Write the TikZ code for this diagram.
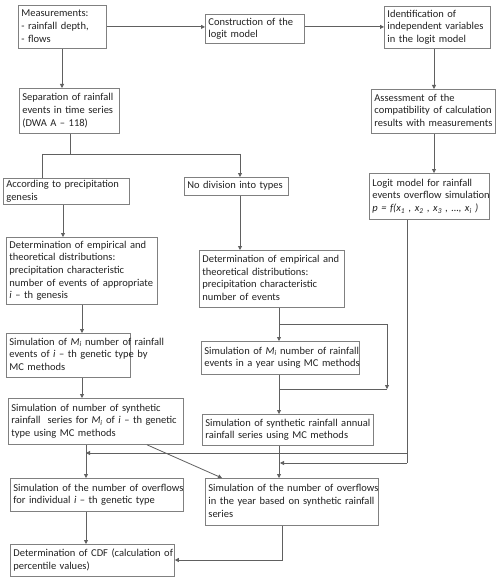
\documentclass[tikz,border=0pt]{standalone}
\usepackage{fontspec}
\setmainfont{Carlito}
\usetikzlibrary{arrows.meta}
\definecolor{boxc}{HTML}{808080}
\definecolor{linec}{HTML}{606060}
\definecolor{txtc}{HTML}{222222}
\newcommand\Ls[1]{\begin{tabular}{@{}l@{}}#1\end{tabular}}
\newcommand\Mi{\textit{M}\textsubscript{\textit{i}}}
\tikzset{
  box/.style={draw=boxc, line width=0.8pt, anchor=north west, inner xsep=3pt, inner ysep=0pt,
    align=left, text=txtc, font=\fontsize{10.5}{12.6}\selectfont},
  conn/.style={draw=linec, line width=0.8pt},
  arr/.style={conn, -{Triangle[length=4pt,width=4pt]}},
}
\begin{document}
\begin{tikzpicture}[x=1pt,y=-1pt]
\fill[white] (0,0) rectangle (500,580);
\useasboundingbox (0,0) rectangle (500,580);
% boxes
\node[box, text width=82pt, minimum height=43pt] (meas) at (18,5) {\Ls{Measurements:\\- rainfall depth,\\- flows}};
\node[box, text width=93pt, minimum height=29pt] (constr) at (205,14) {\Ls{Construction of the\\logit model}};
\node[box, text width=100pt, minimum height=42pt] (ident) at (384,6) {\Ls{Identification of\\independent variables\\in the logit model}};
\node[box, text width=118pt, minimum height=44pt] (assess) at (371,89) {\Ls{Assessment of the\\compatibility of calculation\\results with measurements}};
\node[box, text width=94pt, minimum height=45pt] (sep) at (19,88) {\Ls{Separation of rainfall\\events in time series\\(DWA A -- 118)}};
\node[box, text width=120pt, minimum height=26pt] (accord) at (3,178) {\Ls{According to precipitation\\genesis}};
\node[box, text width=98pt, minimum height=18pt] (nodiv) at (184,177) {\Ls{No division into types}};
\node[box, text width=114pt, minimum height=46pt] (logit) at (369,173) {\Ls{Logit model for rainfall\\events overflow simulation\\\textit{p = f(x\textsubscript{1} , x\textsubscript{2} , x\textsubscript{3} , …, x\textsubscript{i} )}}};
\node[box, text width=145pt, minimum height=67pt] (detL) at (6,237) {\Ls{Determination of empirical and\\theoretical distributions:\\precipitation characteristic\\number of events of appropriate\\\textit{i} -- th genesis}};
\node[box, text width=139pt, minimum height=57pt] (detR) at (199,250) {\Ls{Determination of empirical and\\theoretical distributions:\\precipitation characteristic\\number of events}};
\node[box, text width=118pt, minimum height=44pt] (simML) at (6,333) {\Ls{Simulation of \Mi{} number of rainfall\\events of \textit{i} -- th genetic type by\\MC methods}};
\node[box, text width=152pt, minimum height=33pt] (simMR) at (201,341) {\Ls{Simulation of \Mi{} number of rainfall\\events in a year using MC methods}};
\node[box, text width=169pt, minimum height=46pt] (synL) at (8,398) {\Ls{Simulation of number of synthetic\\rainfall\ \ series for \Mi{} of \textit{i} -- th genetic\\type using MC methods}};
\node[box, text width=165pt, minimum height=31pt] (synA) at (202,414) {\Ls{Simulation of synthetic rainfall annual\\rainfall series using MC methods}};
\node[box, text width=167pt, minimum height=33pt] (overL) at (10,478) {\Ls{Simulation of the number of overflows\\for individual \textit{i} -- th genetic type}};
\node[box, text width=167pt, minimum height=47pt] (overR) at (205,478) {\Ls{Simulation of the number of overflows\\in the year based on synthetic rainfall\\series}};
\node[box, text width=158pt, minimum height=32pt] (cdf) at (10,544) {\Ls{Determination of CDF (calculation of\\percentile values)}};
% column coordinates
\coordinate (k62) at (62,0);
\coordinate (k63) at (63,0);
\coordinate (k82) at (82,0);
\coordinate (k86) at (86,0);
\coordinate (k147) at (147,0);
\coordinate (k222) at (222,0);
\coordinate (k279) at (279,0);
\coordinate (k434) at (434,0);
% connectors
\draw[arr] (meas.south -| k62) -- (sep.north -| k62);
\draw[arr] (meas.east) -- (meas.east -| constr.west);
\draw[arr] (constr.east |- meas.east) -- (ident.west |- meas.east);
\draw[arr] (ident.south -| k434) -- (assess.north -| k434);
\draw[arr] (assess.south -| k434) -- (logit.north -| k434);
\coordinate (s1) at (70,154);
\coordinate (s2) at (42,154);
\coordinate (s3) at (240,154);
\draw[conn] (sep.south -| s1) -- (s1);
\draw[conn] (s2) -- (s3);
\draw[conn] (s2) -- (accord.north -| s2);
\draw[arr] (s3) -- (nodiv.north -| s3);
\draw[arr] (accord.south -| k63) -- (detL.north -| k63);
\draw[arr] (nodiv.south -| s3) -- (detR.north -| s3);
\draw[arr] (detL.south -| k82) -- (simML.north -| k82);
\draw[arr] (detR.south -| k279) -- (simMR.north -| k279);
\coordinate (b1) at (279,324);
\coordinate (b2) at (387,324);
\coordinate (b3) at (387,389);
\coordinate (b4) at (279,389);
\draw[arr] (b1) -- (b2) -- (b3);
\draw[conn] (b4) -- (b3);
\draw[arr] (simMR.south -| k279) -- (synA.north -| k279);
\draw[arr] (simML.south -| k82) -- (synL.north -| k82);
\draw[arr] (synL.south -| k86) -- (overL.north -| k86);
\draw[arr] (synL.south -| k147) -- (overR.north -| k222);
\draw[arr] (synA.south -| k279) -- (overR.north -| k279);
\coordinate (l1) at (407,453);
\coordinate (l2) at (407,463);
\coordinate (l3) at (86,453);
\coordinate (l4) at (280,463);
\draw[conn] (logit.south -| l1) -- (l2);
\draw[arr] (l1) -- (l3);
\draw[arr] (l2) -- (l4);
\draw[arr] (overL.south -| k86) -- (cdf.north -| k86);
\coordinate (r1) at (282,560);
\draw[arr] (overR.south -| r1) -- (r1) -- (cdf.east |- r1);
\end{tikzpicture}
\end{document}
